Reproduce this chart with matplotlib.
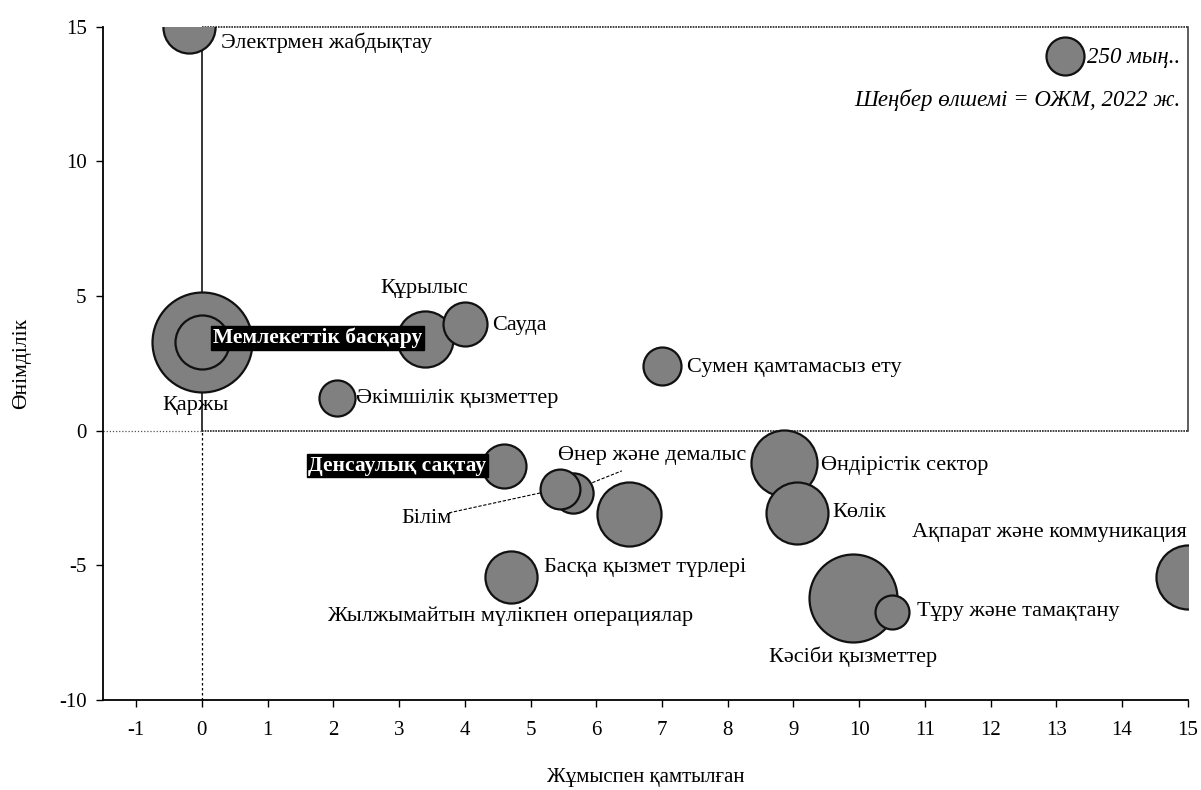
import numpy as np
import matplotlib.pyplot as plt

plt.rcParams['font.family'] = ['Liberation Serif', 'DejaVu Serif']
plt.rcParams['axes.unicode_minus'] = False

# ---- data ----
sectors = ['Электрмен жабдықтау', 'Қаржы', 'Мемлекеттік басқару', 'Құрылыс', 'Сауда',
           'Әкімшілік қызметтер', 'Сумен қамтамасыз ету', 'Денсаулық сақтау',
           'Өнер және демалыс', 'Білім', 'Жылжымайтын мүлікпен операциялар',
           'Өндірістік сектор', 'Көлік', 'Ақпарат және коммуникация',
           'Басқа қызмет түрлері', 'Кәсіби қызметтер', 'Тұру және тамақтану']
employment = [-0.2, 0.0, 0.0, 3.4, 4.0, 2.05, 7.0, 4.6, 5.65, 5.45, 6.5,
              8.85, 9.05, 15.0, 4.7, 9.9, 10.5]
productivity = [15.0, 3.3, 3.3, 3.4, 3.95, 1.2, 2.4, -1.3, -2.3, -2.15, -3.1,
                -1.2, -3.05, -5.45, -5.45, -6.2, -6.75]
workers = [470, 1730, 505, 545, 335, 225, 250, 335, 280, 275, 710,
           755, 665, 710, 470, 1340, 200]  # мың адам
legend_workers = 250

x_ticks = list(range(-1, 16))
y_ticks = [-10, -5, 0, 5, 10, 15]

# label placement (x, y, ha)
label_pos = {
    'Электрмен жабдықтау': (0.29, 14.4, 'left'),
    'Қаржы': (-0.1, 0.93, 'center'),
    'Мемлекеттік басқару': (0.17, 3.46, 'left'),
    'Құрылыс': (3.38, 5.28, 'center'),
    'Сауда': (4.41, 3.9, 'left'),
    'Әкімшілік қызметтер': (2.35, 1.19, 'left'),
    'Сумен қамтамасыз ету': (7.38, 2.34, 'left'),
    'Денсаулық сақтау': (4.33, -1.3, 'right'),
    'Өнер және демалыс': (6.85, -0.93, 'center'),
    'Білім': (3.42, -3.27, 'center'),
    'Жылжымайтын мүлікпен операциялар': (4.69, -6.88, 'center'),
    'Өндірістік сектор': (9.42, -1.3, 'left'),
    'Көлік': (9.59, -3.05, 'left'),
    'Ақпарат және коммуникация': (14.98, -3.79, 'right'),
    'Басқа қызмет түрлері': (5.2, -5.09, 'left'),
    'Кәсіби қызметтер': (9.9, -8.4, 'center'),
    'Тұру және тамақтану': (10.88, -6.73, 'left'),
}
boxed = ['Мемлекеттік басқару', 'Денсаулық сақтау']

# bubble area in points^2 per thousand workers
k = (2 * 19 * 0.72) ** 2 / legend_workers

fig = plt.figure(figsize=(12.01, 7.90), dpi=100)
ax = fig.add_axes([0.086, 0.114, 0.903, 0.852])

# biggest first so the small ones sit on top
order = sorted(range(len(sectors)), key=lambda i: -workers[i])
for z, i in enumerate(order):
    ax.scatter(employment[i], productivity[i], s=workers[i] * k, color='#808080',
               edgecolors='#111111', linewidths=1.6, zorder=3 + z * 0.01)

# legend bubble
ax.scatter(13.13, 13.92, s=legend_workers * k, color='#808080',
           edgecolors='#111111', linewidths=1.6, zorder=3, clip_on=False)
ax.text(13.47, 13.85, '250 мың..', style='italic', fontsize=16.5, va='center', ha='left')
ax.text(14.89, 12.29, 'Шеңбер өлшемі = ОЖМ, 2022 ж.', style='italic', fontsize=16.5,
        va='center', ha='right')

# quadrant frame
ax.plot([0, 0], [0, 15], color='black', lw=1.1, zorder=2)
ax.plot([0, 0], [-10, 0], color='black', lw=0.9, ls=(0, (2, 2)), zorder=2)
ax.plot([0, 15], [0, 0], color='#222222', lw=1.2, ls=(0, (1, 0.6)), zorder=2)
ax.plot([-1.5, 0], [0, 0], color='#555555', lw=0.9, ls=(0, (1, 1.5)), zorder=2)
ax.plot([0, 15], [15, 15], color='#222222', lw=1.2, ls=(0, (1, 0.6)), zorder=2, clip_on=False)
ax.plot([15, 15], [0, 15], color='#333333', lw=1.1, zorder=2, clip_on=False)

# leader lines
ax.plot([3.76, 5.17], [-3.05, -2.3], color='black', lw=0.8, ls=(0, (3, 1.5)), zorder=5)
ax.plot([5.94, 6.39], [-1.93, -1.49], color='black', lw=0.8, ls=(0, (3, 1.5)), zorder=5)

for name, (lx, ly, ha) in label_pos.items():
    if name in boxed:
        ax.text(lx, ly, name, fontsize=15.5, fontweight='bold', color='white',
                ha=ha, va='center', zorder=10,
                bbox=dict(boxstyle='square,pad=0.08', fc='black', ec='black'))
    else:
        ax.text(lx, ly, name, fontsize=16, ha=ha, va='center', zorder=10)

ax.set_xlim(-1.5, 15)
ax.set_ylim(-10, 15)
ax.set_xticks(x_ticks)
ax.set_yticks(y_ticks)
ax.tick_params(axis='both', labelsize=15, direction='out', length=5, width=1)
ax.tick_params(axis='x', pad=10)
ax.tick_params(axis='y', pad=7)
for s in ['top', 'right']:
    ax.spines[s].set_visible(False)
for s in ['left', 'bottom']:
    ax.spines[s].set_linewidth(1.3)

ax.set_xlabel('Жұмыспен қамтылған', fontsize=15, labelpad=20)
ax.set_ylabel('Өнімділік', fontsize=15.5, labelpad=20)

fig.savefig('out.png', dpi=100)
